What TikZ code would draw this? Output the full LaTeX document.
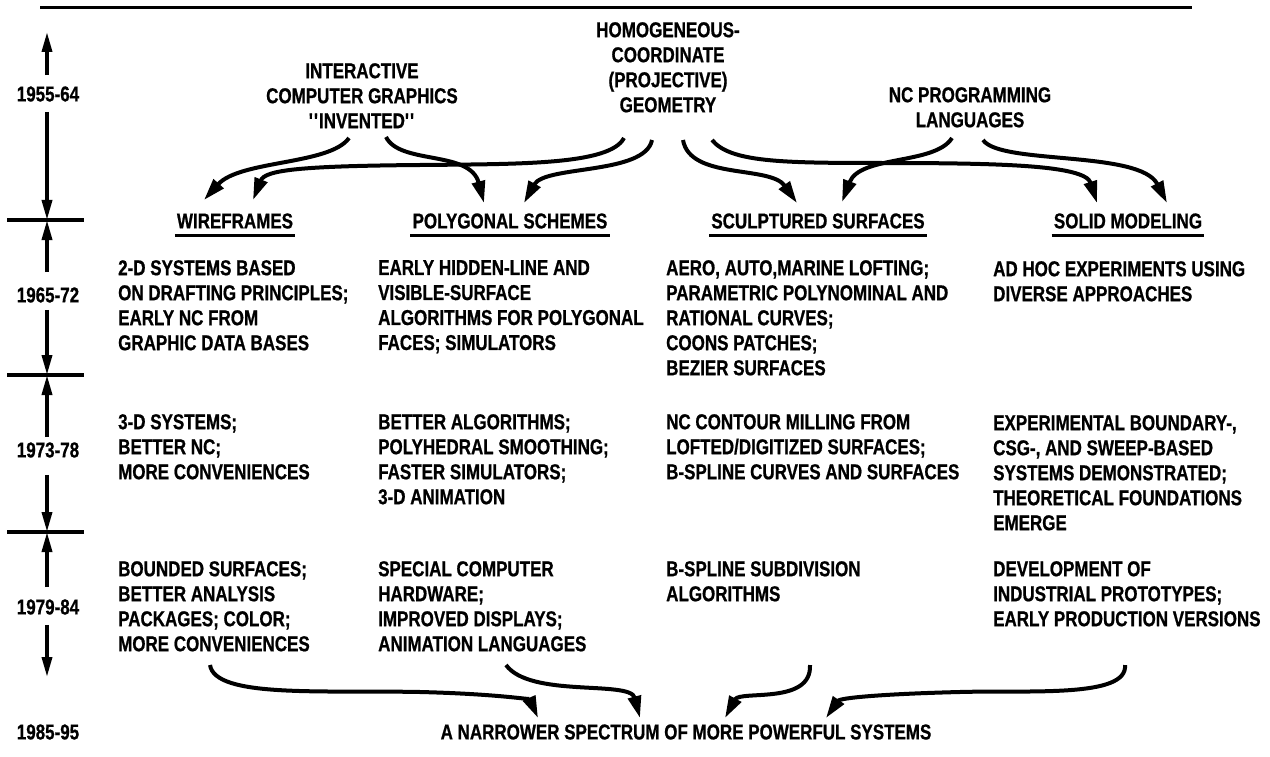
\documentclass[tikz,border=0pt]{standalone}
\usepackage{fontspec}
\setmainfont{Liberation Sans}[FakeStretch=0.79, BoldFeatures={FakeBold=0.8}]
\usetikzlibrary{arrows.meta}
\begin{document}
\begin{tikzpicture}[x=1pt,y=-1pt,
  lbl/.style={font=\fontsize{21.5}{25}\selectfont\bfseries, inner sep=0pt},
  txt/.style={lbl, align=left, anchor=north west},
  ctxt/.style={lbl, align=center, anchor=north},
  head/.style={lbl, anchor=center},
  flow/.style={line width=4pt, -{Triangle[length=22pt,width=13pt]}},
  tl/.style={line width=3.5pt, -{Triangle[length=20pt,width=10pt]}},
  tick/.style={line width=4pt},
  rulestyle/.style={line width=3pt},
  uline/.style={line width=2.8pt}]
\useasboundingbox (0,0) rectangle (1270,757);

% top rule
\coordinate (rl) at (40,8);
\coordinate (rr) at (1192,8);
\draw[rulestyle] (rl) -- (rr);

% timeline
\node[head] (y1955) at (48,94) {1955-64};
\node[head] (y1965) at (48,295) {1965-72};
\node[head] (y1973) at (48,450) {1973-78};
\node[head] (y1979) at (48,607) {1979-84};
\node[head] (y1985) at (48,732) {1985-95};
\coordinate (ttop) at (47,32);
\coordinate (k1) at (47,220);
\coordinate (k2) at (47,375);
\coordinate (k3) at (47,532);
\coordinate (tend) at (47,677);
\draw[tl] ([yshift=11pt]y1955.north -| ttop) -- (ttop);
\draw[tl] ([yshift=-10pt]y1955.south -| k1) -- (k1);
\draw[tl] ([yshift=15pt]y1965.north -| k1) -- (k1);
\draw[tl] ([yshift=-7pt]y1965.south -| k2) -- (k2);
\draw[tl] ([yshift=5pt]y1973.north -| k2) -- (k2);
\draw[tl] ([yshift=-17pt]y1973.south -| k3) -- (k3);
\draw[tl] ([yshift=12pt]y1979.north -| k3) -- (k3);
\draw[tl] ([yshift=-10pt]y1979.south -| tend) -- (tend);
\foreach \k in {k1,k2,k3}{\draw[tick] ([xshift=-40pt]\k) -- ([xshift=37pt]\k);}

% sources
\node[ctxt] (icg) at (362,63) {INTERACTIVE\\COMPUTER GRAPHICS\\\textquotesingle\textquotesingle INVENTED\textquotesingle\textquotesingle};
\node[ctxt] (hcg) at (668,22) {HOMOGENEOUS-\\COORDINATE\\(PROJECTIVE)\\GEOMETRY};
\node[ctxt] (ncp) at (970,87) {NC PROGRAMMING\\LANGUAGES};

% headings
\node[head] (wf) at (235,221) {WIREFRAMES};
\node[head] (ps) at (510,221) {POLYGONAL SCHEMES};
\node[head] (ss) at (818,221) {SCULPTURED SURFACES};
\node[head] (sm) at (1128,221) {SOLID MODELING};
\foreach \n in {wf,ps,ss,sm}{\draw[uline] ([shift={(-2,7)}]\n.south west) -- ([shift={(2,7)}]\n.south east);}

% body texts
\node[txt] (r1c1) at (118,260) {2-D SYSTEMS BASED\\ON DRAFTING PRINCIPLES;\\EARLY NC FROM\\GRAPHIC DATA BASES};
\node[txt] (r1c2) at (378,260) {EARLY HIDDEN-LINE AND\\VISIBLE-SURFACE\\ALGORITHMS FOR POLYGONAL\\FACES; SIMULATORS};
\node[txt] (r1c3) at (666,260) {AERO, AUTO,MARINE LOFTING;\\PARAMETRIC POLYNOMINAL AND\\RATIONAL CURVES;\\COONS PATCHES;\\BEZIER SURFACES};
\node[txt] (r1c4) at (993,261) {AD HOC EXPERIMENTS USING\\DIVERSE APPROACHES};

\node[txt] (r2c1) at (118,414) {3-D SYSTEMS;\\BETTER NC;\\MORE CONVENIENCES};
\node[txt] (r2c2) at (378,414) {BETTER ALGORITHMS;\\POLYHEDRAL SMOOTHING;\\FASTER SIMULATORS;\\3-D ANIMATION};
\node[txt] (r2c3) at (666,414) {NC CONTOUR MILLING FROM\\LOFTED/DIGITIZED SURFACES;\\B-SPLINE CURVES AND SURFACES};
\node[txt] (r2c4) at (993,415) {EXPERIMENTAL BOUNDARY-,\\CSG-, AND SWEEP-BASED\\SYSTEMS DEMONSTRATED;\\THEORETICAL FOUNDATIONS\\EMERGE};

\node[txt] (r3c1) at (118,561) {BOUNDED SURFACES;\\BETTER ANALYSIS\\PACKAGES; COLOR;\\MORE CONVENIENCES};
\node[txt] (r3c2) at (378,561) {SPECIAL COMPUTER\\HARDWARE;\\IMPROVED DISPLAYS;\\ANIMATION LANGUAGES};
\node[txt] (r3c3) at (666,561) {B-SPLINE SUBDIVISION\\ALGORITHMS};
\node[txt] (r3c4) at (993,561) {DEVELOPMENT OF\\INDUSTRIAL PROTOTYPES;\\EARLY PRODUCTION VERSIONS};

\node[head] (nar) at (686,732) {A NARROWER SPECTRUM OF MORE POWERFUL SYSTEMS};

% arrow end points
\coordinate (a1s) at (349,138); \coordinate (a1e) at (204,200);
\coordinate (a2s) at (386,137); \coordinate (a2e) at (484,203);
\coordinate (a3s) at (624,138); \coordinate (a3e) at (253,200);
\coordinate (a4s) at (652,140); \coordinate (a4e) at (524,203);
\coordinate (a5s) at (683,140); \coordinate (a5e) at (797,203);
\coordinate (a6s) at (712,140); \coordinate (a6e) at (1097,203);
\coordinate (a7s) at (952,138); \coordinate (a7e) at (842,202);
\coordinate (a8s) at (983,140); \coordinate (a8e) at (1167,203);

\draw[flow] (a1s) .. controls (330,165) and (240,160) .. (a1e);
\draw[flow] (a2s) .. controls (400,165) and (470,150) .. (a2e);
\draw[flow] (a3s) .. controls (610,165) and (520,164) .. (420,165) .. controls (300,166) and (265,170) .. (a3e);
\draw[flow] (a4s) .. controls (645,175) and (545,165) .. (a4e);
\draw[flow] (a5s) .. controls (690,180) and (770,165) .. (a5e);
\draw[flow] (a6s) .. controls (730,162) and (780,163) .. (880,163) .. controls (1000,163) and (1085,165) .. (a6e);
\draw[flow] (a7s) .. controls (935,165) and (860,155) .. (a7e);
\draw[flow] (a8s) .. controls (1000,165) and (1140,150) .. (a8e);

% bottom arrows
\coordinate (b1s) at (210,665); \coordinate (b1e) at (538,718);
\coordinate (b2s) at (506,665); \coordinate (b2e) at (640,718);
\coordinate (b3s) at (810,665); \coordinate (b3e) at (725,718);
\coordinate (b4s) at (1125,665); \coordinate (b4e) at (826,718);
\draw[flow] (b1s) .. controls (215,698) and (320,690) .. (420,692) .. controls (500,694) and (530,700) .. (b1e);
\draw[flow] (b2s) .. controls (530,698) and (630,680) .. (b2e);
\draw[flow] (b3s) .. controls (812,705) and (740,690) .. (b3e);
\draw[flow] (b4s) .. controls (1128,698) and (1030,690) .. (960,692) .. controls (880,694) and (840,698) .. (b4e);
\end{tikzpicture}
\end{document}
